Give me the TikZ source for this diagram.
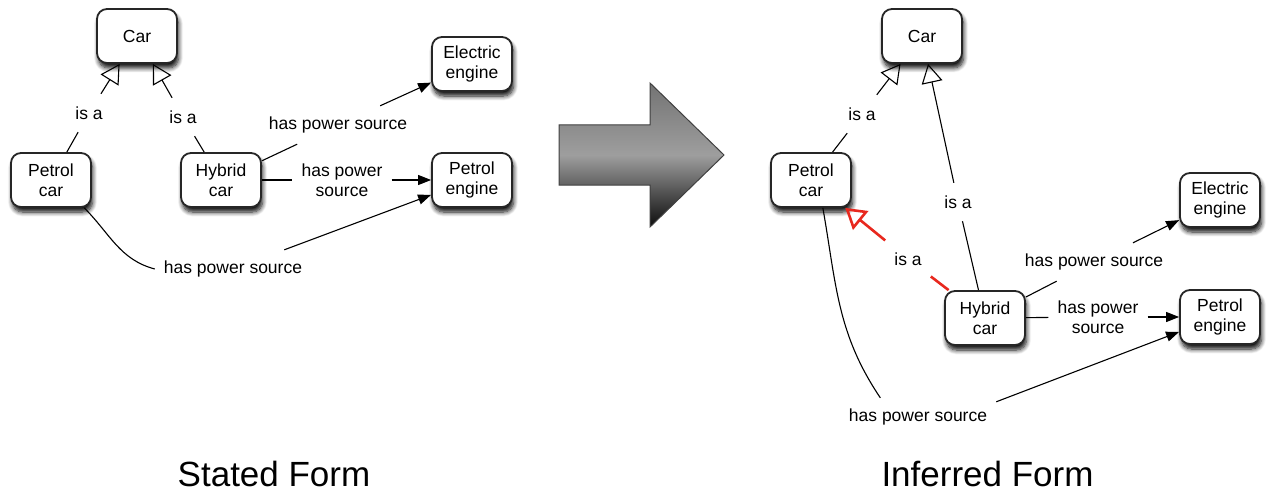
\documentclass[tikz,border=0pt]{standalone}
\usepackage{fontspec}
\setmainfont{Liberation Sans}
\usetikzlibrary{arrows.meta,shadows.blur}

\definecolor{boxline}{HTML}{262626}
\definecolor{inferred}{HTML}{E8281E}

\tikzset{
  concept/.style={draw=boxline, line width=1.8pt, rounded corners=10pt,
    fill=white, minimum width=80pt, minimum height=54pt, align=center,
    font=\fontsize{17.5}{20}\selectfont, inner sep=2pt,
    blur shadow={shadow xshift=1.5pt, shadow yshift=-5pt, shadow blur steps=8,
      shadow blur radius=4.5pt, shadow opacity=95}},
  rel/.style={inner xsep=9pt, inner ysep=10pt, minimum height=38pt,
    align=center, font=\fontsize{17.5}{20}\selectfont},
  link/.style={line width=1.1pt, draw=black},
  isa/.style={link, -{Triangle[open, length=19pt, width=21pt, line width=1.1pt]}},
  power/.style={link, -{Triangle[length=13pt, width=10pt]}},
  newisa/.style={line width=2.6pt, draw=inferred,
    -{Triangle[open, length=20pt, width=24pt, line width=2.6pt]}},
  caption/.style={font=\fontsize{35}{40}\selectfont, anchor=base, inner sep=0pt},
  bigarrow/.style={draw=black!75, line width=1pt,
    top color=black!55, bottom color=black!95, middle color=black!38}
}

\begin{document}
\begin{tikzpicture}[x=1pt, y=-1pt]
\useasboundingbox (0,0) rectangle (1269,492);

% ---------------- stated form ----------------
\node[concept] (carL)   at (137,36)  {Car};
\node[concept] (elecL)  at (472,64)  {Electric\\engine};
\node[concept] (petL)   at (51,180)  {Petrol\\car};
\node[concept] (hybL)   at (221,180) {Hybrid\\car};
\node[concept] (pengL)  at (472,180) {Petrol\\engine};

\node[rel] (isaL1) at (89,113)  {is a};
\node[rel] (isaL2) at (183,117) {is a};
\node[rel] (hpsL1) at (338,125) {has power source};
\node[rel] (hpsL2) at (342,180) {has power\\source};
\node[rel] (hpsL3) at (233,269) {has power source};

\draw[link] (petL) -- (isaL1);
\draw[isa]  (isaL1) -- (carL);
\draw[link] (hybL) -- (isaL2);
\draw[isa]  (isaL2) -- (carL);
\draw[link] (hybL) -- (hpsL1);
\draw[power] (hpsL1) -- (elecL);
\draw[link] (hybL) -- (hpsL2);
\draw[power] (hpsL2) -- (pengL);
\draw[link] (petL.-40) to[out=-45, in=165] (hpsL3.west);
\draw[power] (hpsL3) -- (pengL.200);

% ---------------- inference arrow ----------------
\path[bigarrow] (559,125) -- (650,125) -- (650,83) -- (724,155)
  -- (650,227) -- (650,185) -- (559,185) -- cycle;

% ---------------- inferred form ----------------
\node[concept] (carR)   at (922,36)   {Car};
\node[concept] (petR)   at (811,180)  {Petrol\\car};
\node[concept] (elecR)  at (1220,200) {Electric\\engine};
\node[concept] (hybR)   at (985,318)  {Hybrid\\car};
\node[concept] (pengR)  at (1220,317) {Petrol\\engine};

\node[rel] (isaR1) at (862,114)  {is a};
\node[rel] (isaR2) at (958,202)  {is a};
\node[rel] (isaR3) at (908,259)  {is a};
\node[rel] (hpsR1) at (1094,262) {has power source};
\node[rel] (hpsR2) at (1098,317) {has power\\source};
\node[rel] (hpsR3) at (918,417)  {has power source};

\draw[link] (petR) -- (isaR1);
\draw[isa]  (isaR1) -- (carR);
\draw[link] (hybR) -- (isaR2);
\draw[isa]  (isaR2) -- (carR);
\draw[line width=2.6pt, draw=inferred] (hybR) -- (isaR3);
\draw[newisa] (isaR3) -- (petR);
\draw[link] (hybR) -- (hpsR1);
\draw[power] (hpsR1) -- (elecR);
\draw[link] (hybR) -- (hpsR2);
\draw[power] (hpsR2) -- (pengR);
\draw[link] (petR.-67) to[out=-80, in=124] (hpsR3.153);
\draw[power] (hpsR3.11) -- (pengR.200);

% ---------------- captions ----------------
\node[caption] (capL) at (274,486)   {Stated Form};
\node[caption] (capR) at (987.5,486) {Inferred Form};
\end{tikzpicture}
\end{document}
